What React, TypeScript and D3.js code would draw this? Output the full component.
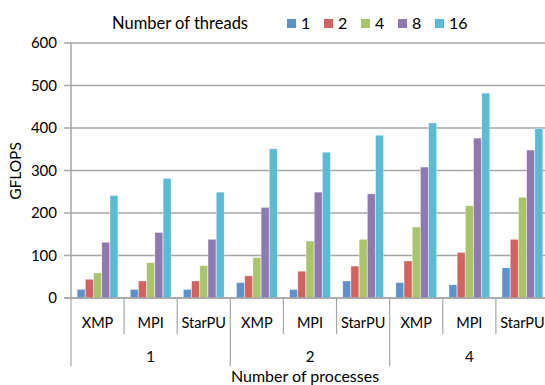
import React from "react";
import * as d3 from "d3";

const threads = ["1", "2", "4", "8", "16"];
const methods = ["XMP", "MPI", "StarPU"];
const processes = ["1", "2", "4"];
const colors = ["#5E92CB", "#D1645E", "#AAC46C", "#9078B1", "#5BBBD5"];
// values per (process, method) group, per thread count
const t1 = [20, 20, 20, 36, 20, 40, 36, 31, 71];
const t2 = [44, 40, 40, 52, 63, 75, 87, 107, 138];
const t4 = [59, 83, 76, 95, 134, 138, 167, 217, 237];
const t8 = [131, 154, 138, 213, 249, 245, 308, 376, 348];
const t16 = [241, 281, 249, 351, 343, 383, 412, 482, 399];
const yTicks = [0, 100, 200, 300, 400, 500, 600];

const series = [t1, t2, t4, t8, t16];

export default function App() {
  const W = 545, H = 385;
  const left = 71, right = 549, top = 43, bottom = 298;
  const groups = processes.flatMap((p) => methods.map((m) => `${p}-${m}`));
  const x = d3.scaleBand<string>().domain(groups).range([left, right]);
  const bw = x.bandwidth();
  const inner = d3.scaleBand<string>().domain(threads).range([6.2, bw - 6.2]).paddingInner(0.04);
  const y = d3.scaleLinear().domain([0, 600]).range([bottom, top]);
  const font = "Lato, 'Open Sans', sans-serif";
  const grid = "#A6A6A6";
  const procW = bw * methods.length;
  const legendX = [287, 324, 361, 398, 435];

  return (
    <svg width={W} height={H} style={{ position: "absolute", left: 0, top: 0 }} fontFamily={font}>
      {/* legend */}
      <text x={112} y={29} fontSize={16.5} fill="#000">Number of threads</text>
      {threads.map((t, i) => (
        <g key={t}>
          <rect x={legendX[i]} y={19} width={9} height={9} fill={colors[i]} />
          <text x={legendX[i] + 14} y={29} fontSize={16} fill="#000">{t}</text>
        </g>
      ))}
      {/* gridlines */}
      {yTicks.map((v) => (
        <g key={v}>
          <line x1={left - 7} x2={right} y1={y(v)} y2={y(v)} stroke={grid} strokeWidth={1.5} />
          <text x={57} y={y(v) + 5} textAnchor="end" fontSize={15} fill="#000">{v}</text>
        </g>
      ))}
      <line x1={left} x2={left} y1={top} y2={bottom} stroke={grid} strokeWidth={1.5} />
      {/* bars */}
      {groups.map((g, gi) => (
        <g key={g}>
          {series.map((s, si) => (
            <rect
              key={si}
              x={(x(g) as number) + (inner(threads[si]) as number)}
              y={y(s[gi])}
              width={inner.bandwidth()}
              height={bottom - y(s[gi])}
              fill={colors[si]}
              stroke="#ffffff"
              strokeOpacity={0.5}
              strokeWidth={0.6}
            />
          ))}
        </g>
      ))}
      <line x1={left - 7} x2={right} y1={bottom} y2={bottom} stroke={grid} strokeWidth={1.5} />
      {/* x axis category ticks */}
      {groups.map((g, gi) => {
        const x0 = x(g) as number;
        const isOuter = gi % methods.length === 0;
        return (
          <g key={g}>
            <line x1={x0} x2={x0} y1={bottom} y2={isOuter ? 366 : 334} stroke={grid} strokeWidth={1.2} />
            <text x={x0 + bw / 2} y={328} textAnchor="middle" fontSize={14.5} fill="#000">
              {methods[gi % methods.length]}
            </text>
          </g>
        );
      })}
      <line x1={right} x2={right} y1={bottom} y2={366} stroke={grid} strokeWidth={1.2} />
      {processes.map((p, pi) => (
        <text key={p} x={left + procW * pi + procW / 2} y={362} textAnchor="middle" fontSize={15} fill="#000">
          {p}
        </text>
      ))}
      <text x={305} y={382} textAnchor="middle" fontSize={16} fill="#000">Number of processes</text>
      <text
        transform={`translate(21, 171) rotate(-90)`}
        textAnchor="middle"
        fontSize={15.5}
        fill="#000"
      >
        GFLOPS
      </text>
    </svg>
  );
}
